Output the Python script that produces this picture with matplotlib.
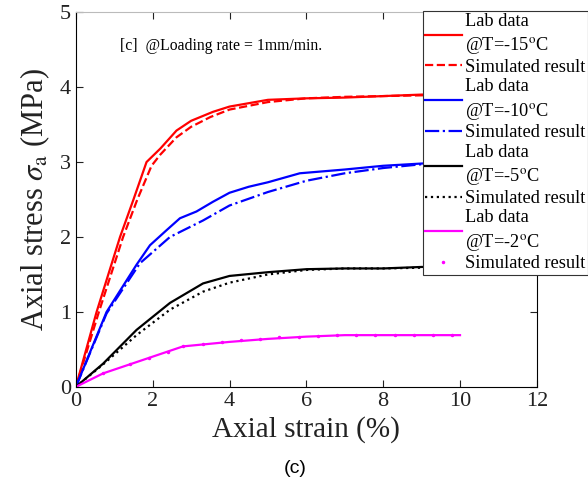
import matplotlib
matplotlib.use("Agg")
import matplotlib.pyplot as plt

plt.rcParams['font.family'] = ['Liberation Serif', 'DejaVu Serif']
plt.rcParams['mathtext.fontset'] = 'stix'

# Lab data and simulated results (strain %, stress MPa)
strain_15 = [0, 0.54, 1.15, 1.5, 1.84, 2.2, 2.62, 3.0, 3.57, 4.0, 5.0, 6.0, 7.0, 8.0, 9.0, 10.0]
lab_15 = [0, 1.0, 2.0, 2.5, 3.0, 3.18, 3.42, 3.55, 3.67, 3.74, 3.83, 3.85, 3.86, 3.88, 3.9, 3.9]
sim_strain_15 = [0, 0.6, 1.23, 1.6, 1.97, 2.2, 2.62, 3.0, 3.5, 4.0, 5.0, 6.0, 7.0, 8.0, 9.0, 10.0]
sim_15 = [0, 1.0, 2.0, 2.5, 2.95, 3.1, 3.33, 3.47, 3.6, 3.7, 3.8, 3.85, 3.87, 3.88, 3.89, 3.9]

strain_10 = [0, 0.8, 1.58, 1.93, 2.36, 2.71, 3.14, 3.57, 4.0, 4.5, 5.0, 5.83, 7.0, 8.0, 9.0, 10.0]
lab_10 = [0, 1.0, 1.63, 1.89, 2.09, 2.25, 2.34, 2.47, 2.59, 2.67, 2.73, 2.85, 2.9, 2.95, 2.98, 3.0]
sim_strain_10 = [0, 0.8, 1.67, 2.45, 3.31, 4.0, 5.0, 6.0, 7.0, 8.0, 9.0, 10.0]
sim_10 = [0, 0.98, 1.65, 2.0, 2.22, 2.42, 2.6, 2.75, 2.85, 2.92, 2.97, 2.99]

strain_5 = [0, 0.71, 1.58, 2.45, 3.31, 4.0, 5.0, 6.0, 7.0, 8.0, 9.0, 10.0]
lab_5 = [0, 0.31, 0.76, 1.12, 1.38, 1.48, 1.53, 1.57, 1.58, 1.58, 1.6, 1.6]
sim_5 = [0, 0.3, 0.69, 1.03, 1.27, 1.39, 1.5, 1.56, 1.58, 1.58, 1.59, 1.6]

strain_2 = [0, 0.71, 2.79, 4.0, 5.0, 6.0, 7.0, 8.0, 9.0, 10.0]
lab_2 = [0, 0.18, 0.54, 0.6, 0.64, 0.67, 0.69, 0.69, 0.69, 0.69]
sim_strain_2 = [0, 0.7, 1.4, 1.9, 2.4, 2.8, 3.3, 3.8, 4.3, 4.8, 5.3, 5.8, 6.3, 6.8, 7.3, 7.8, 8.3, 8.8, 9.3, 9.8]
sim_2 = [0, 0.18, 0.3, 0.39, 0.47, 0.54, 0.57, 0.6, 0.62, 0.64, 0.66, 0.67, 0.68, 0.69, 0.69, 0.69, 0.69, 0.69, 0.69, 0.69]

fig = plt.figure(figsize=(5.88, 4.86), dpi=100)
ax = fig.add_axes([0.129, 0.204, 0.784, 0.771])

lw = 1.6
ax.plot(strain_15, lab_15, color='red', lw=lw, label='Lab data\n@T=-15$^{\\rm o}$C')
ax.plot(sim_strain_15, sim_15, color='red', lw=lw, ls='--', label='Simulated result')
ax.plot(strain_10, lab_10, color='blue', lw=lw, label='Lab data\n@T=-10$^{\\rm o}$C')
ax.plot(sim_strain_10, sim_10, color='blue', lw=lw, ls='-.', label='Simulated result')
ax.plot(strain_5, lab_5, color='black', lw=lw, label='Lab data\n@T=-5$^{\\rm o}$C')
ax.plot(strain_5, sim_5, color='black', lw=lw, ls=':', label='Simulated result')
ax.plot(strain_2, lab_2, color='magenta', lw=lw, label='Lab data\n@T=-2$^{\\rm o}$C')
ax.plot(sim_strain_2, sim_2, color='magenta', ls='none', marker='.', ms=3, label='Simulated result')

ax.set_xlim(0, 12)
ax.set_ylim(0, 5)
ax.set_xticks([0, 2, 4, 6, 8, 10, 12])
ax.set_yticks([0, 1, 2, 3, 4, 5])
ax.tick_params(direction='in', top=True, right=True, labelsize=16, length=5, colors='#222222')
ax.spines['top'].set_color('#bbbbbb')

ax.set_xlabel('Axial strain (%)', fontsize=21, color='#222222')
ax.set_ylabel('Axial stress $\\sigma_{\\rm a}$ (MPa)', fontsize=22, color='#222222', labelpad=6)

ax.text(1.15, 4.5, '[c]  @Loading rate = 1mm/min.', fontsize=11.3)

leg = fig.legend(loc='upper left', bbox_to_anchor=(0.719, 0.978), fontsize=13.2,
                 frameon=True, fancybox=False, framealpha=1, edgecolor='#333333',
                 labelspacing=0.14, handlelength=2.0, handletextpad=0.2,
                 borderpad=0.12, borderaxespad=0)
leg.get_frame().set_linewidth(0.8)
for t in leg.get_texts():
    t.set_linespacing(1.36)

fig.text(0.502, 0.035, '(c)', fontsize=14, family='Liberation Sans', ha='center', va='center')

fig.savefig('out.png', dpi=100)
